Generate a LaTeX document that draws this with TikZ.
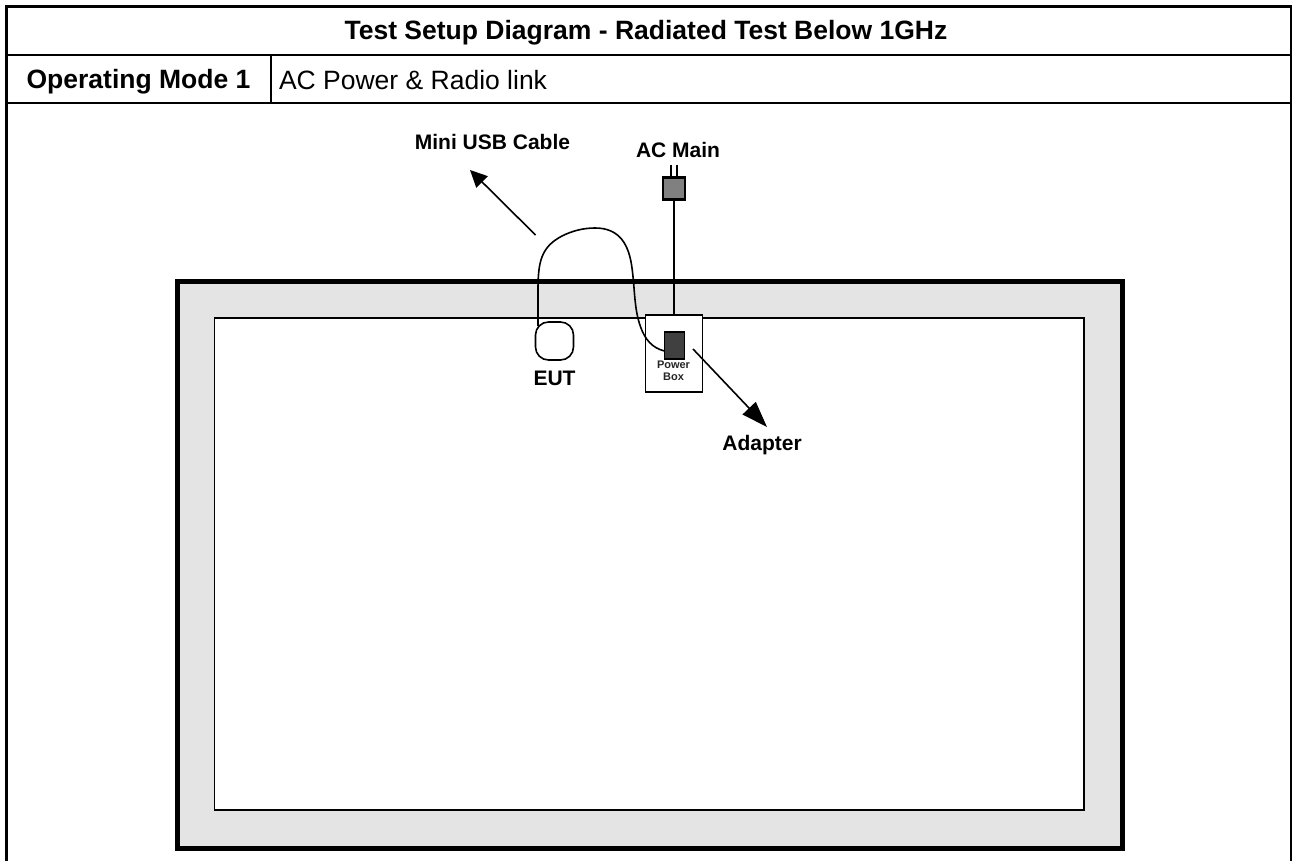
\documentclass[tikz,border=0pt]{standalone}
\usepackage{fontspec}
\setmainfont{Liberation Sans}
\usetikzlibrary{arrows.meta}
\definecolor{framefill}{HTML}{E4E4E4}
\definecolor{adapterfill}{HTML}{404040}
\definecolor{plugfill}{HTML}{808080}
\tikzset{
  x=1pt,y=-1pt,
  every node/.style={outer sep=0pt,inner sep=0pt},
  rule/.style={line width=2pt,line cap=butt},
  lbl/.style={font=\fontsize{21pt}{24pt}\selectfont\bfseries,anchor=center},
  head/.style={font=\fontsize{26.5pt}{30pt}\selectfont\bfseries},
  thin line/.style={line width=1.6pt},
  pointer/.style={line width=1.6pt,-{Triangle[length=17pt,width=16pt]}},
  bigpointer/.style={line width=1.6pt,-{Triangle[length=26pt,width=18pt]}},
}
\begin{document}
\begin{tikzpicture}
\useasboundingbox (0,0) rectangle (1292,861);
% table
\draw[line width=3pt] (6.5,861) -- (6.5,6.5) -- (1292,6.5);
\draw[line width=1.5pt] (1291,6) -- (1291,861);
\draw[rule] (8,55) -- (1291,55);
\draw[rule] (8,103) -- (1291,103);
\draw[line width=1.4pt] (271,55) -- (271,103);
\node[head] (title) at (646,32.5) {Test Setup Diagram - Radiated Test Below 1GHz};
\node[head] (mode) at (138.5,81.5) {Operating Mode 1};
\node[head,font=\fontsize{26.5pt}{30pt}\selectfont\mdseries,anchor=west] (modeval) at (279,80) {AC Power \& Radio link};
% chamber
\node[draw,line width=5pt,fill=framefill,minimum width=944.5pt,minimum height=567pt,anchor=north west] (chamber) at (177.5,281) {};
\node[draw,line width=1.2pt,fill=white,minimum width=869.5pt,minimum height=492pt,anchor=north west] (room) at (214.5,318) {};
% power box
\node[draw,line width=1.6pt,fill=white,minimum width=57pt,minimum height=77pt,anchor=north west] (pbox) at (645.5,315) {};
\node[draw,line width=1.8pt,fill=adapterfill,minimum width=20pt,minimum height=27pt,anchor=north west] (adapter) at (664.5,332) {};
\node[font=\fontsize{11pt}{12pt}\selectfont\bfseries,align=center,text=black!85] (pboxlabel) at (673.5,371) {Power\\Box};
% plug
\draw[line width=2pt] (671,165) -- (671,178) (677,165) -- (677,178);
\node[draw,line width=2.8pt,fill=plugfill,minimum width=22pt,minimum height=22pt,anchor=north west] (plug) at (663,177.5) {};
\draw[thin line] (plug.south) -- (pbox.north -| plug.south);
% EUT
\node[draw,line width=1.6pt,fill=white,rounded corners=13pt,minimum width=38pt,minimum height=38pt,anchor=north west] (eut) at (535.5,322) {};
% cable
\coordinate (c0) at (538,326);
\coordinate (c3) at (adapter.west |- 0,351);
\draw[line width=1.6pt] (c0) -- (538,290)
  .. controls (538,262) and (541,247) .. (562,236)
  .. controls (572,231) and (583,228) .. (595,228)
  .. controls (620,228) and (629,245) .. (632,268)
  .. controls (635,290) and (634,310) .. (641,328)
  .. controls (645,339) and (652,348) .. (c3);
% pointers
\coordinate (m0) at (535.5,235);
\coordinate (m1) at (470,170);
\coordinate (a0) at (693,349);
\coordinate (a1) at (767,427);
\draw[pointer] (m0) -- (m1);
\draw[bigpointer] (a0) -- (a1);
% labels
\node[lbl] (lmini) at (492.5,142) {Mini USB Cable};
\node[lbl] (lac) at (678,150) {AC Main};
\node[lbl] (leut) at (554.5,378) {EUT};
\node[lbl] (ladapter) at (762,445) {Adapter};
\end{tikzpicture}
\end{document}
